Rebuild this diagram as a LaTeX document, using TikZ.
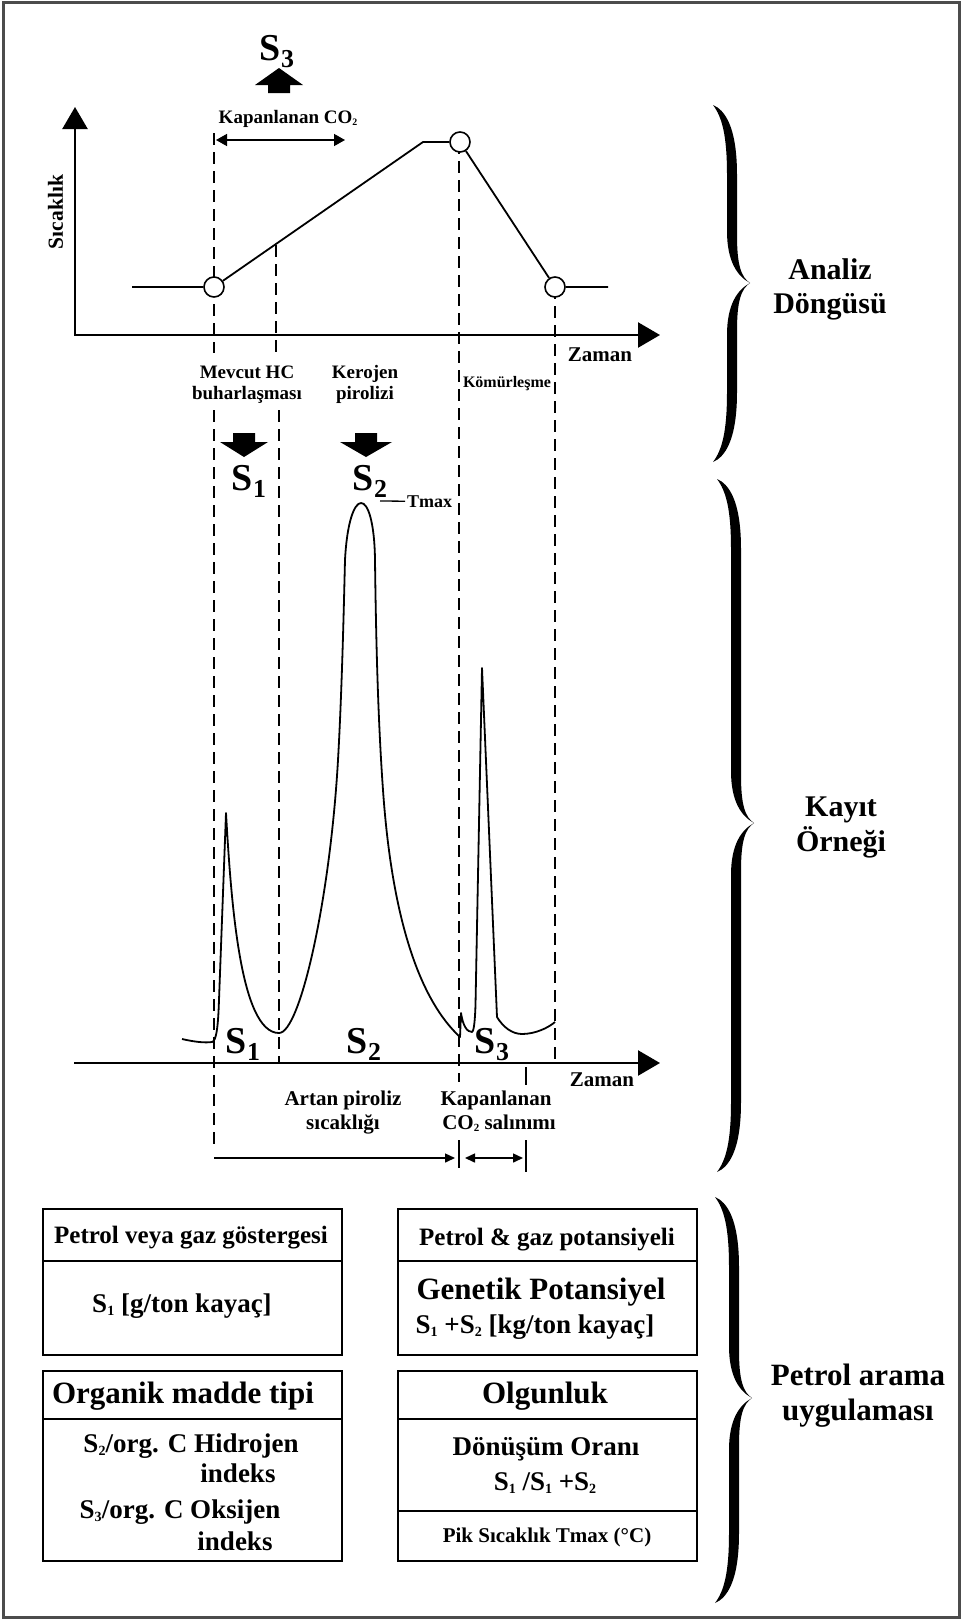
\documentclass[tikz,border=0pt]{standalone}
\usepackage{fontspec}
\setmainfont{Liberation Serif}
\usepackage{graphicx}
\usetikzlibrary{arrows.meta}
\newcommand{\fsz}[1]{\fontsize{#1}{#1}\selectfont\bfseries}
\newcommand{\subA}[1]{\raisebox{-0.2em}{\scalebox{0.68}{#1}}}
\newcommand{\subB}[1]{\raisebox{-0.12em}{\scalebox{0.52}{#1}}}
\newcommand{\curlybrace}[4]{%
  \begin{scope}[shift={(#1,#3)}]
    \pgfmathsetmacro{\brA}{#3-#2}
    \pgfmathsetmacro{\brB}{#4-#3}
    \fill (0,{-\brA}) .. controls (12,{-\brA+5}) and (24,{-\brA+22}) .. (24,{-\brA+70})
      -- (24,-48) .. controls (24,-18) and (28,-6) .. (37,0)
      .. controls (28,6) and (24,18) .. (24,48)
      -- (24,{\brB-70}) .. controls (24,{\brB-22}) and (12,{\brB-5}) .. (0,{\brB})
      .. controls (9,{\brB-12}) and (14,{\brB-30}) .. (14,{\brB-70})
      -- (14,52) .. controls (14,22) and (24,7) .. (37,0)
      .. controls (24,-7) and (14,-22) .. (14,-52)
      -- (14,{-\brA+70}) .. controls (14,{-\brA+30}) and (9,{-\brA+12}) .. (0,{-\brA}) -- cycle;
  \end{scope}}
\begin{document}
\begin{tikzpicture}[x=1pt,y=-1pt,
  lbl/.style={anchor=base, inner sep=0pt},
  crv/.style={line width=1.8pt, line join=round},
  axisln/.style={line width=2.4pt},
  dsh/.style={line width=1.4pt, dash pattern=on 12pt off 7pt},
  tdot/.style={circle, draw, fill=white, line width=1.6pt, minimum size=20pt, inner sep=0pt},
  cell/.style={draw, line width=1.8pt, minimum width=299pt, inner sep=0pt},
  bigtip/.tip={Triangle[length=22pt,width=25pt]},
  smtip/.tip={Triangle[length=11pt,width=12pt]},
  tytip/.tip={Triangle[length=10pt,width=9pt]}]
\useasboundingbox (0,0) rectangle (963,1620);
\fill[white] (0,0) rectangle (963,1620);
\draw[black!70, line width=3pt] (3.5,2.5) rectangle (959.5,1617.5);

% dashed guides
\draw[dsh] (214,133) -- (214,353);
\draw[dsh] (214,410) -- (214,1145);
\draw[dsh] (276,245) -- (276,353);
\draw[dsh] (279,410) -- (279,1063);
\draw[dsh] (459,142) -- (459,1082);
\draw[dsh] (555,287) -- (555,1063);

% upper axes
\coordinate (ytop) at (75,107);
\coordinate (o1) at (75,335);
\coordinate (x1end) at (660,335);
\draw[axisln, bigtip-bigtip] (ytop) -- (o1) -- (x1end);

% temperature programme
\node[tdot] (c1) at (214,287) {};
\node[tdot] (c2) at (460,142) {};
\node[tdot] (c3) at (555,287) {};
\coordinate (t0) at (132,287);
\coordinate (tp) at (423,142);
\coordinate (t1) at (608,287);
\draw[crv] (t0) -- (c1) -- (tp) -- (c2) -- (c3) -- (t1);

% S3 up arrow and label
\fill (268,93) -- (268,85) -- (255,85) -- (279,68) -- (303,85) -- (290,85) -- (290,93) -- cycle;
\node[lbl, font=\fsz{38}] (s3top) at (277,60) {S\subA{3}};
\node[lbl, font=\fsz{19}] (kap) at (288,123) {Kapanlanan CO\subB{2}};
\coordinate (kapL) at (216,140);
\coordinate (kapR) at (345,140);
\draw[line width=1.5pt, smtip-smtip] (kapL) -- (kapR);

% axis labels
\node[rotate=90, inner sep=0pt, font=\fsz{21.5}] (sic) at (55.5,212) {Sıcaklık};
\node[lbl, font=\fsz{21}] (zam1) at (600,361) {Zaman};
\node[lbl, font=\fsz{19}] (mev1) at (247,378) {Mevcut HC};
\node[lbl, font=\fsz{19}] (mev2) at (247,399) {buharlaşması};
\node[lbl, font=\fsz{19}] (ker1) at (365,378) {Kerojen};
\node[lbl, font=\fsz{19}] (ker2) at (365,399) {pirolizi};
\node[lbl, font=\fsz{16}] (kom) at (507,387) {Kömürleşme};

% down arrows and S labels
\fill (233,433) -- (255,433) -- (255,442) -- (268,442) -- (244,457) -- (220,442) -- (233,442) -- cycle;
\fill (355,433) -- (377,433) -- (377,442) -- (392,442) -- (366,457) -- (340,442) -- (355,442) -- cycle;
\node[lbl, font=\fsz{38}] (s1mid) at (249,490) {S\subA{1}};
\node[lbl, font=\fsz{38}] (s2mid) at (370,490) {S\subA{2}};
\node[anchor=base west, inner sep=0pt, inner xsep=2pt, font=\fsz{18}] (tmax) at (405,507) {Tmax};
\coordinate (tmL) at (380,501);
\draw[line width=1.3pt] (tmL) -- (tmax.west);

% record
\draw[crv] (182,1039) .. controls (195,1042) and (205,1043) .. (212,1042)
  .. controls (216,1041) and (218,1030) .. (219,1000) -- (226,813)
  .. controls (231,900) and (240,1033) .. (279,1033)
  .. controls (300,1033) and (330,900) .. (338,760)
  .. controls (342,690) and (344,600) .. (345,560)
  .. controls (349,484) and (374,484) .. (375,560)
  .. controls (376,640) and (378,720) .. (383,790)
  .. controls (392,920) and (420,1000) .. (460,1037)
  -- (461,1013) .. controls (463,1026) and (467,1032) .. (472,1032)
  .. controls (474,1031) and (475,1020) .. (475.5,1005) -- (482,668) -- (497,1017)
  .. controls (503,1027) and (512,1034) .. (522,1034)
  .. controls (535,1034) and (548,1028) .. (555,1022);

% lower axis
\coordinate (o2) at (74,1063);
\coordinate (x2end) at (660,1063);
\draw[axisln, -bigtip] (o2) -- (x2end);
\node[lbl, font=\fsz{38}] (s1low) at (243,1053) {S\subA{1}};
\node[lbl, font=\fsz{38}] (s2low) at (364,1053) {S\subA{2}};
\node[lbl, font=\fsz{38}] (s3low) at (492,1053) {S\subA{3}};
\node[lbl, font=\fsz{21}] (zam2) at (602,1086) {Zaman};
\node[lbl, font=\fsz{21}] (art1) at (343,1105) {Artan piroliz};
\node[lbl, font=\fsz{21}] (art2) at (343,1129) {sıcaklığı};
\node[lbl, font=\fsz{21}] (kpl1) at (496,1105) {Kapanlanan};
\node[lbl, font=\fsz{21}] (kpl2) at (499,1129) {CO\subB{2} salınımı};

% ticks and lower arrows
\draw[line width=1.5pt] (526,1067) -- (526,1085);
\draw[line width=1.5pt] (459,1140) -- (459,1168);
\draw[line width=1.5pt] (526,1140) -- (526,1172);
\coordinate (arL) at (214,1158);
\coordinate (arR) at (455,1158);
\coordinate (crL) at (465,1158);
\coordinate (crR) at (523,1158);
\draw[line width=1.5pt, -tytip] (arL) -- (arR);
\draw[line width=1.5pt, tytip-tytip] (crL) -- (crR);

% braces and section labels
\curlybrace{713}{105}{283}{462}
\curlybrace{717}{479}{823}{1172}
\curlybrace{715}{1197}{1398}{1603}
\node[lbl, font=\fsz{30}] (an1) at (830,279) {Analiz};
\node[lbl, font=\fsz{30}] (an2) at (830,313) {Döngüsü};
\node[lbl, font=\fsz{30}] (ky1) at (841,816) {Kayıt};
\node[lbl, font=\fsz{30}] (ky2) at (841,851) {Örneği};
\node[lbl, font=\fsz{31}] (pa1) at (858,1385) {Petrol arama};
\node[lbl, font=\fsz{31}] (pa2) at (858,1420) {uygulaması};

% boxes
\node[cell, minimum height=52pt] (cA1) at (192.5,1235) {};
\node[cell, minimum height=94pt] (cA2) at (192.5,1308) {};
\node[cell, minimum height=52pt] (cB1) at (547.5,1235) {};
\node[cell, minimum height=94pt] (cB2) at (547.5,1308) {};
\node[cell, minimum height=48pt] (cC1) at (192.5,1395) {};
\node[cell, minimum height=142pt] (cC2) at (192.5,1490) {};
\node[cell, minimum height=48pt] (cD1) at (547.5,1395) {};
\node[cell, minimum height=92pt] (cD2) at (547.5,1465) {};
\node[cell, minimum height=50pt] (cD3) at (547.5,1536) {};

\node[lbl, font=\fsz{25}] (tA1) at (191,1243) {Petrol veya gaz göstergesi};
\node[lbl, font=\fsz{27}] (tA2) at (182,1312) {S\subB{1} [g/ton kayaç]};
\node[lbl, font=\fsz{25}] (tB1) at (547,1245) {Petrol \& gaz potansiyeli};
\node[lbl, font=\fsz{31}] (tB2a) at (541,1299) {Genetik Potansiyel};
\node[lbl, font=\fsz{27}] (tB2b) at (535,1333) {S\subB{1} +S\subB{2} [kg/ton kayaç]};
\node[lbl, font=\fsz{31}] (tC1) at (183,1403) {Organik madde tipi};
\node[lbl, font=\fsz{27}] (tC2a) at (191,1452) {S\subB{2}/org. C Hidrojen};
\node[lbl, font=\fsz{27}] (tC2b) at (238,1482) {indeks};
\node[lbl, font=\fsz{27}] (tC2c) at (180,1518) {S\subB{3}/org. C Oksijen};
\node[lbl, font=\fsz{27}] (tC2d) at (235,1550) {indeks};
\node[lbl, font=\fsz{31}] (tD1) at (545,1403) {Olgunluk};
\node[lbl, font=\fsz{27}] (tD2a) at (546,1455) {Dönüşüm Oranı};
\node[lbl, font=\fsz{27}] (tD2b) at (545,1490) {S\subB{1} /S\subB{1} +S\subB{2}};
\node[lbl, font=\fsz{21}] (tD3) at (547,1542) {Pik Sıcaklık Tmax (°C)};
\end{tikzpicture}
\end{document}
